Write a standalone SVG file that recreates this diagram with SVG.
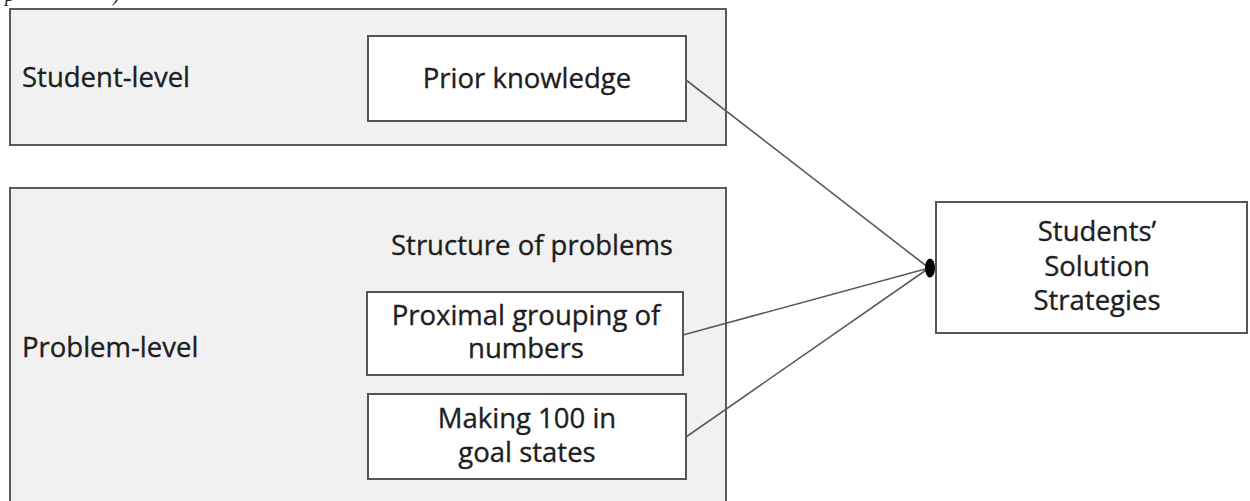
<svg xmlns="http://www.w3.org/2000/svg" width="1250" height="501" viewBox="0 0 1250 501">
<style>
.panel{fill:#f1f1f1;stroke:#5a5a5a;stroke-width:2}
.box{fill:#ffffff;stroke:#555555;stroke-width:2}
.t{font-family:"Open Sans",Lato,"Liberation Sans",sans-serif;font-size:27.5px;fill:#1e1e1e;stroke:#1e1e1e;stroke-width:0.35}
.c{text-anchor:middle}
.conn{stroke:#5a5a5a;stroke-width:1.6;fill:none}
</style>
<text x="5" y="1" font-family="'Liberation Serif',serif" font-style="italic" font-size="20" fill="#222">p</text>
<text x="113" y="1" font-family="'Liberation Serif',serif" font-style="italic" font-size="20" fill="#222">)</text>
<g id="student-level">
<rect class="panel" x="10" y="9" width="716" height="136"/>
<text class="t" x="22" y="87">Student-level</text>
</g>
<g id="problem-level">
<rect class="panel" x="10" y="188" width="716" height="330"/>
<text class="t" x="22" y="357">Problem-level</text>
<text class="t c" x="532" y="255">Structure of problems</text>
</g>
<g id="prior-knowledge">
<rect class="box" x="368" y="36" width="318" height="85"/>
<text class="t c" x="527" y="88">Prior knowledge</text>
</g>
<g id="proximal">
<rect class="box" x="367" y="292" width="316" height="83"/>
<text class="t c" x="526" y="325">Proximal grouping of</text>
<text class="t c" x="526" y="358">numbers</text>
</g>
<g id="making100">
<rect class="box" x="368" y="394" width="318" height="85"/>
<text class="t c" x="527" y="428">Making 100 in</text>
<text class="t c" x="527" y="462">goal states</text>
</g>
<g id="strategies">
<rect class="box" x="936" y="202" width="311" height="131"/>
<text class="t c" x="1097" y="241">Students’</text>
<text class="t c" x="1097" y="276">Solution</text>
<text class="t c" x="1097" y="310">Strategies</text>
</g>
<g id="connectors">
<line class="conn" x1="686" y1="80" x2="929" y2="268"/>
<line class="conn" x1="683" y1="335" x2="929" y2="268"/>
<line class="conn" x1="686" y1="437" x2="929" y2="268"/>
<ellipse cx="930" cy="268" rx="5" ry="9.5" fill="#000"/>
</g>
</svg>
